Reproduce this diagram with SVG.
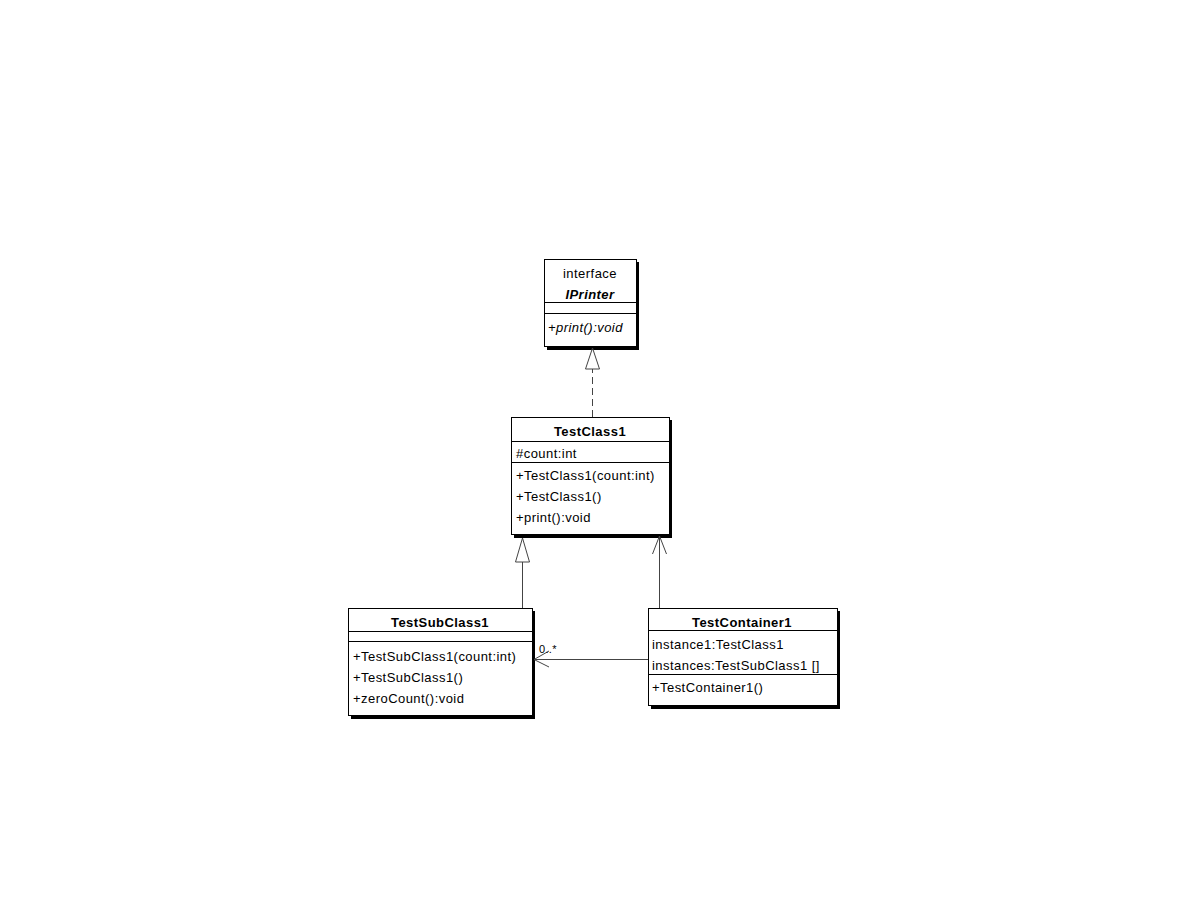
<svg xmlns="http://www.w3.org/2000/svg" width="1188" height="918" viewBox="0 0 1188 918">
<style>
.box{fill:#fff;stroke:#000;stroke-width:1}
.sh{fill:#000}
.ln{stroke:#000;stroke-width:1;fill:none}
.t{font-family:"Liberation Sans",Arial,sans-serif;font-size:13px;letter-spacing:0.45px;fill:#000}
.b{font-weight:bold}
.i{font-style:italic}
.c{text-anchor:middle}
.con{stroke:#444;stroke-width:1;fill:none}
</style>
<rect width="1188" height="918" fill="#fff"/>
<g id="IPrinter">
<rect class="sh" x="547" y="262" width="92" height="88"/>
<rect class="box" x="544.5" y="259.5" width="92" height="87"/>
<line class="ln" x1="544.5" y1="302.5" x2="636.5" y2="302.5"/>
<line class="ln" x1="544.5" y1="313.5" x2="636.5" y2="313.5"/>
<text class="t c" x="590" y="278">interface</text>
<text class="t c b i" x="590" y="299">IPrinter</text>
<text class="t i" x="548" y="332">+print():void</text>
</g>
<g id="TestClass1">
<rect class="sh" x="514" y="420" width="158" height="118"/>
<rect class="box" x="511.5" y="417.5" width="158" height="117"/>
<line class="ln" x1="511.5" y1="441.5" x2="669.5" y2="441.5"/>
<line class="ln" x1="511.5" y1="462.5" x2="669.5" y2="462.5"/>
<text class="t c b" x="590" y="436">TestClass1</text>
<text class="t" x="516" y="458">#count:int</text>
<text class="t" x="516" y="480">+TestClass1(count:int)</text>
<text class="t" x="516" y="501">+TestClass1()</text>
<text class="t" x="516" y="522">+print():void</text>
</g>
<g id="TestSubClass1">
<rect class="sh" x="351" y="611" width="184" height="108"/>
<rect class="box" x="348.5" y="608.5" width="184" height="107"/>
<line class="ln" x1="348.5" y1="631.5" x2="532.5" y2="631.5"/>
<line class="ln" x1="348.5" y1="641.5" x2="532.5" y2="641.5"/>
<text class="t c b" x="440" y="627">TestSubClass1</text>
<text class="t" x="353" y="661">+TestSubClass1(count:int)</text>
<text class="t" x="353" y="682">+TestSubClass1()</text>
<text class="t" x="353" y="703">+zeroCount():void</text>
</g>
<g id="TestContainer1">
<rect class="sh" x="651" y="611" width="189" height="98"/>
<rect class="box" x="648.5" y="608.5" width="189" height="97"/>
<line class="ln" x1="648.5" y1="630.5" x2="837.5" y2="630.5"/>
<line class="ln" x1="648.5" y1="674.5" x2="837.5" y2="674.5"/>
<text class="t c b" x="742" y="627">TestContainer1</text>
<text class="t" x="652" y="649">instance1:TestClass1</text>
<text class="t" x="652" y="670">instances:TestSubClass1 []</text>
<text class="t" x="652" y="692">+TestContainer1()</text>
</g>
<g id="connectors">
<line class="con" x1="592.5" y1="417" x2="592.5" y2="369" stroke-dasharray="7,4"/>
<polygon class="con" points="592.5,348 585.5,369 599.5,369" fill="#fff"/>
<line class="con" x1="522.5" y1="608" x2="522.5" y2="562"/>
<polygon class="con" points="522.5,538 515.5,562 529.5,562" fill="#fff"/>
<line class="con" x1="659.5" y1="608" x2="659.5" y2="536"/>
<polyline class="con" points="652.5,554 659.5,536 666.5,554"/>
<line class="con" x1="648" y1="659.5" x2="534" y2="659.5"/>
<polyline class="con" points="549,651 534,659.5 549,667"/>
<text class="t" x="539" y="653" style="font-size:11px;letter-spacing:0.3px">0..*</text>
</g>
</svg>
